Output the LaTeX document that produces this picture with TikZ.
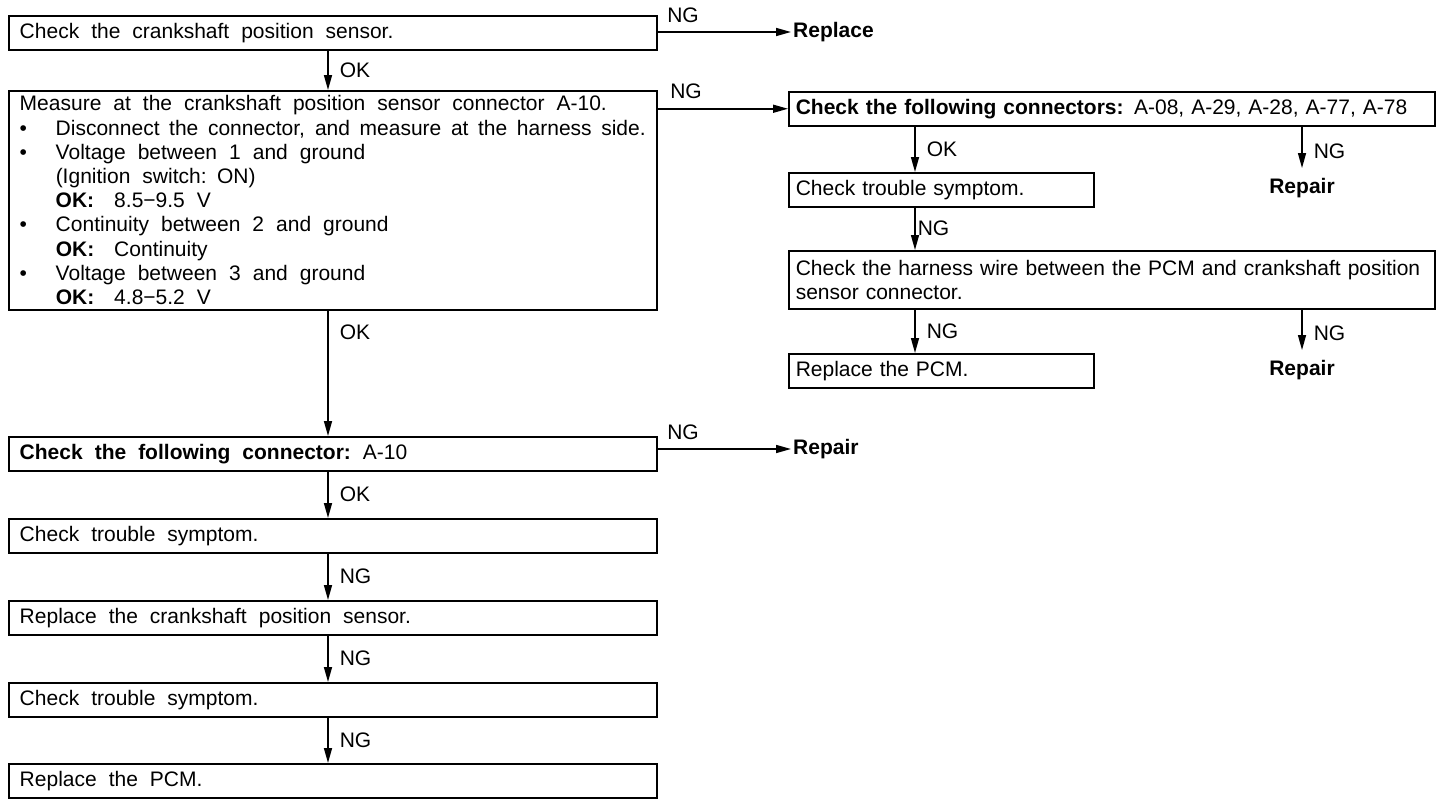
\documentclass[tikz,border=0pt]{standalone}
\usepackage{fontspec}
\setmainfont{Liberation Sans}
\usetikzlibrary{arrows.meta, positioning}

\newcommand{\bul}{\makebox[36pt][l]{\textbullet}}
\newcommand{\ind}{\hspace*{36pt}}
\newcommand{\okv}{\textbf{OK:}\hspace{20pt}}

\begin{document}
\begin{tikzpicture}[x=1pt, y=-1pt,
  box/.style={draw, line width=1.5pt, anchor=north west, minimum height=34pt,
    inner xsep=11pt, inner ysep=5pt, align=left, font=\fontsize{21}{24.2}\selectfont},
  widebox/.style={box, text width=626pt, execute at begin node={\spaceskip=12pt minus 5pt\relax}},
  rbox/.style={box, inner xsep=7pt, text width=632pt},
  sbox/.style={box, inner xsep=7pt, text width=291pt},
  flow/.style={line width=1.5pt, -{Triangle[length=15pt, width=8pt]}},
  lbl/.style={font=\fontsize{21}{24}\selectfont, inner sep=2pt},
  res/.style={font=\fontsize{21}{24}\selectfont\bfseries, inner sep=2pt}]
  \useasboundingbox (0,0) rectangle (1456,804);

  \coordinate (colL) at (328,0);
  \coordinate (colR) at (915,0);

  % left column
  \node[widebox] (crank) at (8,15) {Check the crankshaft position sensor.};
  \node[res, anchor=west] (replace) at (791,32) {Replace};
  \node[widebox] (measure) at (8,90) {Measure at the crankshaft position sensor connector A-10.\\
    \bul Disconnect the connector, and measure at the harness side.\\
    \bul Voltage between 1 and ground\\
    \ind (Ignition switch: ON)\\
    \ind \okv 8.5−9.5 V\\
    \bul Continuity between 2 and ground\\
    \ind \okv Continuity\\
    \bul Voltage between 3 and ground\\
    \ind \okv 4.8−5.2 V};
  \node[widebox] (conn) at (8,436) {\textbf{Check the following connector:}\ A-10};
  \node[res, anchor=west] (repC) at (791,449) {Repair};
  \node[widebox] (symL) at (8,518) {Check trouble symptom.};
  \node[widebox] (sensor) at (8,600) {Replace the crankshaft position sensor.};
  \node[widebox] (symL2) at (8,682) {Check trouble symptom.};
  \node[widebox] (pcmL) at (8,763) {Replace the PCM.};

  % right column
  \node[rbox] (conns) at (788,91) {\textbf{Check the following connectors:} A-08, A-29, A-28, A-77, A-78};
  \node[sbox] (symR) at (788,172) {Check trouble symptom.};
  \node[res] (repA) at (1302,188) {Repair};
  \node[rbox, minimum height=58pt] (harness) at (788,250) {Check the harness wire between the PCM and crankshaft position\\sensor connector.};
  \node[sbox] (pcmR) at (788,353) {Replace the PCM.};
  \node[res] (repB) at (1302,370) {Repair};

  % connectors
  \draw[flow] (crank.east |- replace.west) -- (replace.west)
    node[lbl, pos=0, anchor=south west, xshift=7pt, yshift=7pt] {NG};
  \draw[flow] (crank.south -| colL) -- (measure.north -| colL) node[lbl, midway, right=9pt] {OK};
  \draw[flow] (measure.east |- conns.west) -- (conns.west)
    node[lbl, pos=0, anchor=south west, xshift=10pt, yshift=7pt] {NG};
  \draw[flow] (measure.south -| colL) -- (conn.north -| colL) node[lbl, pos=0.17, right=9pt] {OK};
  \draw[flow] (conn.east |- repC.west) -- (repC.west)
    node[lbl, pos=0, anchor=south west, xshift=7pt, yshift=7pt] {NG};
  \foreach \a/\b/\t in {conn/symL/OK, symL/sensor/NG, sensor/symL2/NG, symL2/pcmL/NG}
    \draw[flow] (\a.south -| colL) -- (\b.north -| colL) node[lbl, midway, right=9pt] {\t};

  \draw[flow] (conns.south -| colR) -- (symR.north -| colR) node[lbl, midway, right=9pt] {OK};
  \draw[flow, shorten >=8pt] (conns.south -| repA) -- (repA.north) node[lbl, midway, right=9pt] {NG};
  \draw[flow] (symR.south -| colR) -- (harness.north -| colR) node[lbl, midway, right=0pt] {NG};
  \draw[flow] (harness.south -| colR) -- (pcmR.north -| colR) node[lbl, midway, right=9pt] {NG};
  \draw[flow, shorten >=8pt] (harness.south -| repB) -- (repB.north) node[lbl, midway, right=9pt] {NG};
\end{tikzpicture}
\end{document}
